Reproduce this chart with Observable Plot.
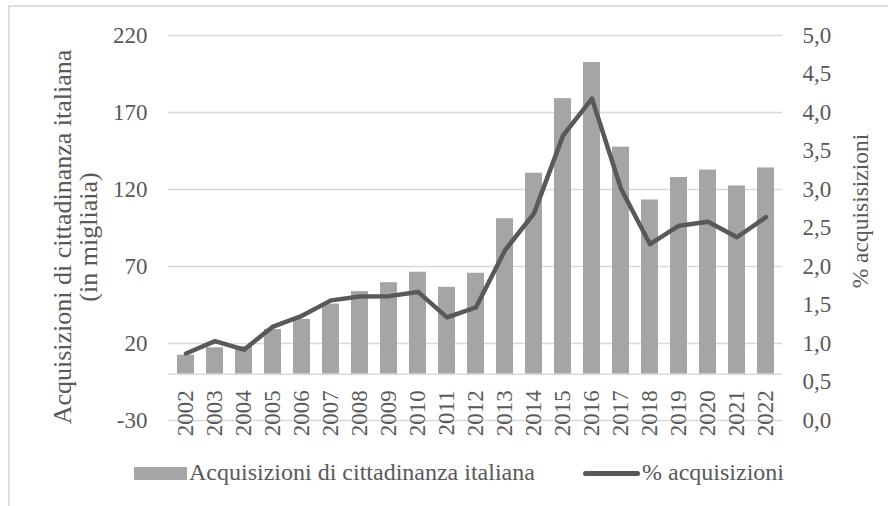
<!DOCTYPE html>
<html>
<head>
<meta charset="utf-8">
<script src="https://cdn.jsdelivr.net/npm/d3@7"></script>
<script src="https://cdn.jsdelivr.net/npm/@observablehq/plot@0.6"></script>
<style>
  html, body { margin: 0; padding: 0; background: #fff; }
  #wrap { position: relative; width: 888px; height: 506px; overflow: hidden; font-family: 'Liberation Serif', 'Times New Roman', serif; color: #595959; }
  #frame { position: absolute; left: 8px; top: 5px; width: 900px; height: 520px; border-left: 2px solid #dedede; border-top: 2px solid #dedede; }
  #chart { position: absolute; left: 0; top: 0; }
  .lg { position: absolute; font-size: 24px; line-height: 24px; white-space: nowrap; }
</style>
</head>
<body>
<div id="wrap">
  <div id="frame"></div>
  <div id="chart"></div>
  <div id="legend"></div>
</div>
<script>
const years = ["2002","2003","2004","2005","2006","2007","2008","2009","2010","2011","2012","2013","2014","2015","2016","2017","2018","2019","2020","2021","2022"];
const acquisizioni = [12.4, 17.2, 18, 29.1, 35.6, 45.6, 53.7, 59.5, 66.3, 56.5, 65.6, 101, 130.6, 179, 202.5, 147.5, 113.2, 127.8, 132.6, 122.3, 134];
const percentuale = [0.87, 1.03, 0.92, 1.22, 1.36, 1.56, 1.61, 1.615, 1.67, 1.34, 1.47, 2.21, 2.69, 3.70, 4.18, 3.01, 2.29, 2.53, 2.58, 2.38, 2.64];
const leftTicks = [-30, 20, 70, 120, 170, 220];
const rightTicks = [0, 0.5, 1, 1.5, 2, 2.5, 3, 3.5, 4, 4.5, 5];
const leftTitle = "Acquisizioni di cittadinanza italiana\n(in migliaia)";
const rightTitle = "% acquisisizioni";
const legendLabels = ["Acquisizioni di cittadinanza italiana", "% acquisizioni"];

// right axis maps 0..5 onto the left axis -30..220
const toLeft = p => p * 50 - 30;
const table = years.map((y, i) => ({year: y, value: acquisizioni[i], pct: percentuale[i]}));
const fmt = v => v.toFixed(1).replace(".", ",");

const chart = Plot.plot({
  width: 888,
  height: 460,
  marginLeft: 168,
  marginRight: 106,
  marginTop: 35,
  marginBottom: 40,
  style: {fontFamily: "'Liberation Serif', 'Times New Roman', serif", color: "#595959", background: "transparent", overflow: "visible"},
  x: {type: "band", domain: years, paddingInner: 0.43, paddingOuter: 0.215, axis: null},
  y: {domain: [-30, 220], axis: null},
  marks: [
    Plot.gridY(leftTicks, {stroke: "#d9d9d9", strokeOpacity: 1, strokeWidth: 1.4}),
    Plot.barY(table, {x: "year", y: "value", fill: "#a5a5a5"}),
    Plot.ruleY([0], {stroke: "#d9d9d9", strokeWidth: 1.4}),
    Plot.line(table, {x: "year", y: d => toLeft(d.pct), stroke: "#595959", strokeWidth: 4.5, strokeLinejoin: "round", strokeLinecap: "round"}),
    Plot.axisY(leftTicks, {anchor: "left", tickSize: 0, tickPadding: 21, fontSize: 23, fill: "#595959", label: null, tickFormat: v => String(v)}),
    Plot.axisY(rightTicks.map(toLeft), {anchor: "right", tickSize: 0, tickPadding: 20, fontSize: 23, fill: "#595959", label: null, tickFormat: v => fmt((v + 30) / 50)}),
    Plot.text(years, {x: d => d, y: 0, text: d => d, rotate: -90, textAnchor: "end", lineAnchor: "middle", dy: 16, fontSize: 23, fill: "#595959"}),
    Plot.text([leftTitle], {frameAnchor: "left", textAnchor: "middle", lineAnchor: "middle", rotate: -90, dx: -93, dy: 9, fontSize: 26, lineHeight: 1.0, fill: "#595959"}),
    Plot.text([rightTitle], {frameAnchor: "right", textAnchor: "middle", lineAnchor: "middle", rotate: -90, dx: 78, dy: -17, fontSize: 23.5, fill: "#595959"})
  ]
});
document.getElementById("chart").appendChild(chart);

const lg = document.getElementById("legend");
lg.innerHTML = `
  <div style="position:absolute;left:134px;top:467px;width:53px;height:13px;background:#a5a5a5"></div>
  <div class="lg" style="left:189px;top:460px">${legendLabels[0]}</div>
  <div style="position:absolute;left:583px;top:470.5px;width:57px;height:5px;border-radius:3px;background:#595959"></div>
  <div class="lg" style="left:642px;top:460px">${legendLabels[1]}</div>
`;
</script>
</body>
</html>
